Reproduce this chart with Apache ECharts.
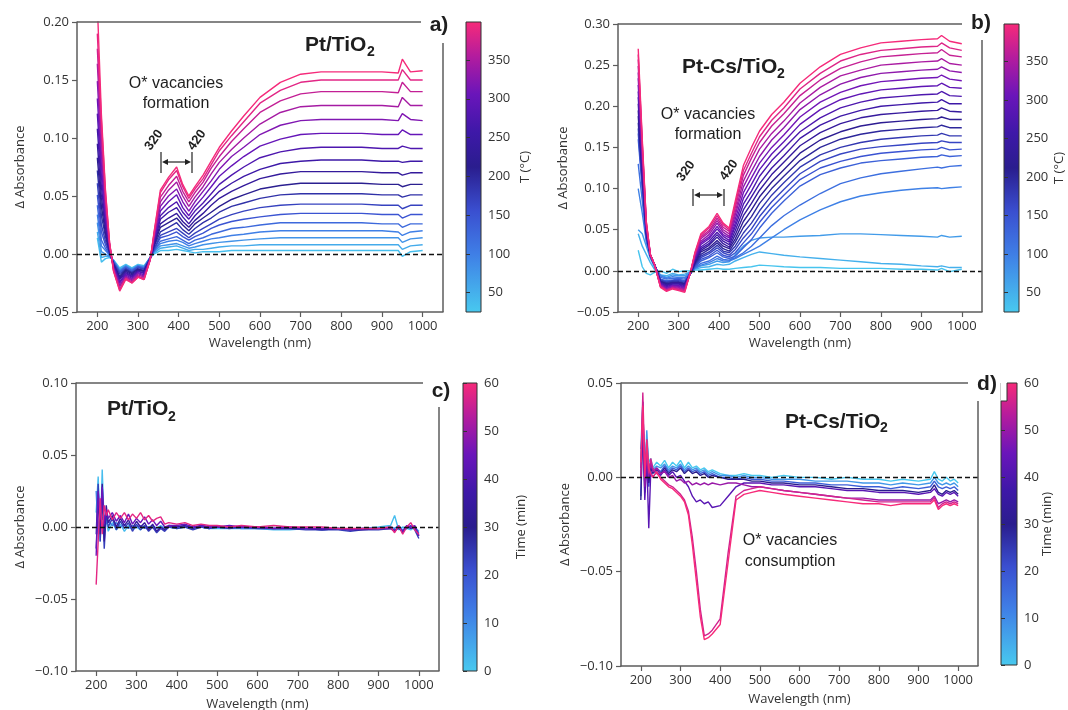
<!DOCTYPE html>
<html>
<head>
<meta charset="utf-8">
<title>Delta absorbance spectra</title>
<script src="https://cdn.jsdelivr.net/npm/echarts@6/dist/echarts.min.js"></script>
<style>
html, body { margin: 0; padding: 0; background: #fff; }
#main { width: 1068px; height: 710px; }
</style>
</head>
<body>
<div id="main"></div>
<script>
// ---- data (delta absorbance in units of 1e-3) ----
var WL_AB = [200, 210, 220, 230, 240, 255, 270, 285, 300, 315, 330, 340, 355, 375, 395, 410, 425, 440, 460, 480, 500, 530, 560, 600, 650, 700, 750, 800, 850, 900, 940, 950, 970, 1000];
var WL_CD = [200, 205, 210, 215, 220, 225, 230, 240, 250, 260, 270, 280, 290, 300, 310, 320, 330, 340, 350, 360, 370, 380, 400, 420, 440, 460, 480, 500, 530, 560, 600, 640, 680, 720, 760, 800, 830, 860, 900, 930, 940, 950, 960, 970, 980, 990, 1000];
var WL_TICKS = [200, 300, 400, 500, 600, 700, 800, 900, 1000];
var TEMP_TICKS = [50, 100, 150, 200, 250, 300, 350];
var TIME_TICKS = [0, 10, 20, 30, 40, 50, 60];

// a) Pt/TiO2, temperature ramp (°C)
var TEMP_A = [35, 55, 80, 100, 125, 150, 170, 190, 210, 235, 255, 275, 300, 320, 345, 365, 385, 398];
var DABS_A = [
  [14,-7,-4,-3,-5,-12,-9,-12,-9,-10,-3,0,3,3,4,3,2,1,2,2,2,3,3,3,3,3,3,3,3,3,3,-2,2,3],
  [19,-3,-2,-2,-6,-13,-10,-13,-10,-11,-3,1,5,6,7,5,3,4,4,5,6,7,7,8,8,8,8,8,8,8,8,4,7,8],
  [27,2,0,-2,-6,-14,-10,-13,-10,-11,-3,2,7,8,9,7,5,6,8,9,10,11,12,13,14,14,14,14,14,14,14,10,13,14],
  [34,7,3,-1,-6,-15,-11,-14,-10,-12,-3,3,9,11,12,10,7,9,11,13,14,16,17,19,20,20,20,20,20,20,19,16,19,20],
  [42,12,5,-1,-7,-15,-11,-14,-11,-12,-3,3,11,13,15,12,9,12,14,17,19,22,23,25,27,27,27,27,27,26,26,23,26,26],
  [51,19,8,0,-7,-16,-12,-15,-11,-13,-3,4,14,16,19,15,12,15,18,22,25,28,30,32,34,35,35,35,35,34,34,31,34,34],
  [61,25,11,1,-8,-17,-13,-16,-12,-13,-4,5,16,19,22,18,14,18,22,26,30,34,37,40,42,43,43,43,43,42,42,39,42,42],
  [72,33,15,1,-8,-19,-13,-16,-13,-14,-4,7,19,23,27,21,17,22,27,31,36,41,44,48,51,52,52,52,52,51,51,49,51,51],
  [83,41,18,2,-9,-20,-14,-17,-13,-15,-4,8,23,27,31,25,20,26,31,36,41,47,51,56,59,61,61,61,61,60,60,58,60,60],
  [95,49,22,3,-10,-21,-15,-18,-14,-15,-4,9,26,31,35,28,23,29,35,42,48,54,59,65,69,71,71,71,71,70,70,68,70,70],
  [108,58,26,4,-10,-22,-16,-19,-15,-16,-4,10,30,36,40,32,26,33,40,47,54,61,67,73,78,80,81,81,81,80,80,79,80,80],
  [121,67,30,5,-11,-24,-17,-20,-15,-17,-4,12,33,40,45,36,30,37,44,52,60,68,75,83,88,91,92,92,92,91,91,93,91,91],
  [134,76,35,6,-12,-25,-18,-21,-16,-18,-4,13,37,45,51,40,33,41,49,58,67,76,84,93,99,103,104,104,104,103,103,107,103,103],
  [149,86,39,7,-12,-27,-19,-22,-17,-19,-4,15,41,50,56,45,37,45,54,63,73,84,92,103,111,115,116,116,116,116,115,121,116,115],
  [164,97,44,8,-13,-28,-20,-23,-18,-20,-5,16,45,55,62,50,41,49,58,69,79,90,100,112,122,127,128,128,128,128,127,135,128,128],
  [177,106,48,9,-14,-30,-21,-24,-19,-21,-5,18,49,59,67,54,45,53,62,74,84,97,108,122,132,138,140,140,140,140,139,148,140,140],
  [190,115,53,10,-15,-31,-21,-25,-20,-22,-5,19,53,64,72,58,48,56,65,77,89,102,114,130,141,148,150,150,150,150,150,159,150,150],
  [215,120,55,10,-15,-32,-22,-25,-20,-22,-5,20,55,66,75,60,50,58,68,80,92,106,119,135,148,155,157,157,157,157,156,168,157,158]
];

// b) Pt-Cs/TiO2, temperature ramp (°C)
var TEMP_B = [30, 50, 72, 98, 118, 135, 151, 167, 182, 201, 219, 238, 256, 274, 293, 311, 330, 348, 366, 382, 398];
var DABS_B = [
  [25,5,-3,-5,-2,0,-3,2,-1,0,0,1,1,2,3,2,2,3,4,5,7,6,5,4,4,3,3,3,2,2,1,3,-1,2],
  [45,30,20,10,2,-5,-6,-3,-5,-4,-1,2,4,5,8,7,8,12,16,20,23,21,19,17,15,13,11,9,8,6,5,6,4,4],
  [50,45,30,15,5,-5,-8,-5,-6,-6,-1,3,6,8,12,10,11,20,30,37,40,41,41,42,43,45,45,44,43,42,41,43,41,42],
  [100,70,35,17,6,-6,-9,-7,-8,-8,-2,3,7,10,15,12,12,15,20,25,30,40,50,62,74,84,91,95,98,100,101,100,101,102],
  [130,85,38,17,7,-8,-10,-9,-9,-10,-2,4,9,12,18,14,13,16,22,30,40,55,67,80,94,106,113,118,121,124,126,125,127,128],
  [160,100,40,18,8,-10,-12,-11,-10,-12,-3,5,12,16,22,17,15,18,28,38,52,70,85,103,117,125,131,134,136,138,139,141,139,140],
  [167,104,41,18,8,-11,-13,-12,-11,-13,-3,6,14,18,25,19,17,22,34,45,59,77,92,111,125,133,139,143,145,147,148,150,147,148],
  [173,107,42,18,8,-11,-14,-12,-12,-14,-3,7,16,21,28,22,19,26,40,51,66,84,99,118,133,142,148,151,153,155,156,158,156,156],
  [180,111,44,18,8,-12,-14,-13,-13,-15,-2,8,18,23,31,24,22,30,46,58,73,92,107,126,141,150,156,160,162,164,165,167,164,164],
  [188,115,45,19,8,-13,-15,-14,-14,-16,-2,9,20,26,34,27,24,35,53,66,82,100,115,134,150,160,166,170,172,174,175,177,174,174],
  [195,119,46,19,8,-13,-16,-15,-14,-16,-2,10,23,28,37,30,27,39,60,74,90,108,123,143,159,169,176,180,182,184,185,187,184,184],
  [203,123,48,19,8,-14,-17,-15,-15,-17,-2,12,25,31,41,33,29,44,67,82,98,117,132,152,168,179,186,190,192,194,195,198,194,193],
  [211,128,49,19,8,-15,-18,-16,-16,-18,-2,13,27,33,44,36,32,49,74,90,106,125,140,161,177,188,195,200,202,204,205,208,203,203],
  [218,132,51,19,8,-15,-19,-17,-17,-19,-1,14,29,36,47,39,35,54,81,97,115,134,149,169,186,198,205,210,212,214,215,218,213,212],
  [226,136,52,19,8,-16,-20,-18,-18,-20,-1,15,32,39,51,42,37,58,88,105,123,142,157,178,196,208,215,220,222,224,225,228,223,222],
  [234,140,53,19,8,-17,-21,-18,-19,-21,-1,16,34,41,54,44,40,63,95,113,131,150,165,187,205,217,225,230,232,234,235,238,233,231],
  [241,144,55,19,8,-17,-22,-19,-20,-22,-1,18,36,44,58,47,42,68,102,121,139,159,174,196,214,227,235,240,242,244,245,248,243,241],
  [249,149,56,20,8,-18,-23,-20,-21,-23,0,19,39,47,61,50,45,72,109,129,148,167,182,204,223,237,244,250,252,254,255,258,252,250],
  [257,153,58,20,8,-19,-23,-21,-22,-24,0,20,41,49,64,53,48,77,116,137,156,176,191,213,232,246,254,260,262,264,265,269,262,260],
  [263,156,59,20,8,-19,-24,-21,-23,-25,0,21,43,52,67,56,50,81,122,143,163,183,198,221,240,255,263,268,270,272,273,277,271,268],
  [270,160,60,20,8,-20,-25,-22,-24,-26,0,22,45,54,70,58,52,85,128,150,170,190,205,228,248,263,271,277,279,281,282,286,279,276]
];

// c) Pt/TiO2, time (min)
var TIME_C = [2, 12, 24, 34, 45, 58];
var DABS_C = [
  [10,35,-10,40,0,5,-3, 3,-2,2,-3,1,-2,0,-2,1,-1,0,-1,1,-1,0, -1,0,-1,0,-1,-1, -1,-1, -1,-2,-2,-1,-2,-1, -2,-1,0,1, 8,-2,0,-1,-2,0,-3],
  [25,-5,15,5,8,2,4, 1,3,0,2,-1,1,0,1,-1,0,1,-1,0,-1,0, 0,1,0,0,-1,0, 0,-1, -1,-1,-1,-1,-2,-1, -2,-1,-1,0, -1,1,-2,0,-1,0,-4],
  [-5,30,-10,22,-15,10,0, 6,-2,4,-1,3,-3,2,-2,1,-3,0,-4,-1,-3,0, -1,0,-2,0,-1,0, -1,0, -1,-1,-1,-2,-2,-2, -3,-2,-2,-1, -2,-1,-3,-1,1,-2,-8],
  [-15,20,-5,30,-10,15,3, 8,0,6,1,5,-1,4,0,3,-2,2,-3,0,-2,1, 0,1,-1,1,0,0, 0,0, 0,-1,-1,-1,-2,-1, -2,-2,-1,-1, -3,0,-4,1,-1,0,-6],
  [-20,25,5,28,2,12,6, 10,4,8,3,9,2,6,3,7,2,5,1,4,0,1, 1,2,0,1,0,0, 1,0, 0,-1,0,-1,-1,-1, -2,-1,-1,-1, -3,0,-3,1,0,1,-6],
  [-40,-10,20,-5,15,8,12, 5,10,6,10,5,9,6,10,5,8,4,6,7,2,3, 2,3,1,2,1,1, 0,1, 0,1,0,0,0,-1, -1,-1,-1,0, -4,1,-5,0,3,-2,-5]
];

// d) Pt-Cs/TiO2, time (min)
var TIME_D = [0, 8, 18, 30, 42, 50, 56, 60];
var DABS_D = [
  [10,30,5,20,8,10,5, 8,6,9,5,8,6,9,5,8,5,6,4,5,3,4, 2,1,1,2,1,1, 0,1, 0,0,-1,0,-1,-1, -2,-1,-2,-1, 3,-1,-2,0,-2,-1,-3],
  [15,40,-5,25,5,8,4, 6,5,7,4,6,5,7,4,6,4,5,3,4,2,3, 1,1,0,1,0,0, -1,-1, -1,-2,-2,-2,-3,-3, -4,-3,-4,-3, 0,-3,-4,-3,-4,-3,-5],
  [-10,35,0,20,-5,6,3, 5,3,6,3,5,4,6,3,5,3,4,2,3,1,2, 0,0,-1,0,-1,-1, -2,-2, -3,-3,-4,-4,-5,-5, -6,-5,-6,-5, -2,-5,-6,-5,-6,-5,-7],
  [-12,30,-8,15,-3,5,2, 4,2,5,2,4,3,5,2,4,2,3,1,2,0,1, 0,-1,-1,-1,-2,-2, -3,-3, -4,-4,-5,-6,-6,-7, -7,-7,-8,-7, -4,-8,-9,-7,-8,-7,-9],
  [0,25,-12,10,-27,3,0, 3,1,4,1,3,0,1,-2,-5,-10,-13,-12,-14,-13,-16, -15,-10,-5,-3,-3,-3, -4,-4, -5,-5,-6,-7,-7,-8, -8,-8,-9,-8, -6,-9,-10,-8,-9,-8,-10],
  [5,40,-5,12,0,8,3, 5,2,3,0,1,-2,-1,-3,-2,-4,-3,-4,-3,-4,-3, -4,-3,-3,-4,-5,-5, -6,-7, -8,-9,-10,-11,-11,-12, -12,-12,-12,-12, -10,-14,-13,-12,-13,-12,-13],
  [0,45,5,15,2,10,5, 2,0,-2,-4,-5,-7,-9,-12,-18,-32,-50,-70,-84,-83,-81, -75,-40,-10,-7,-6,-5, -6,-7, -8,-9,-10,-11,-12,-13, -13,-13,-13,-13, -11,-16,-14,-13,-14,-13,-14],
  [8,38,0,20,5,2,0, 3,-1,-3,-5,-6,-8,-10,-13,-20,-36,-55,-74,-86,-85,-83, -78,-45,-12,-9,-8,-7, -8,-9, -10,-11,-12,-13,-14,-14, -15,-14,-14,-14, -12,-17,-15,-14,-15,-14,-15]
];

// ---- colour map (cyan -> blue -> indigo -> purple -> pink) ----
var CMAP_STOPS = [[0, '#48c9ef'], [0.2, '#3f7fe6'], [0.35, '#3a4fd0'], [0.5, '#2a1d8e'], [0.62, '#3e18a8'], [0.75, '#6a15ba'], [0.88, '#b31c9e'], [1, '#f72a79']];

function hexRgb(h) {
  return [parseInt(h.substr(1, 2), 16), parseInt(h.substr(3, 2), 16), parseInt(h.substr(5, 2), 16)];
}
function cmap(t) {
  t = Math.max(0, Math.min(1, t));
  for (var i = 1; i < CMAP_STOPS.length; i++) {
    if (t <= CMAP_STOPS[i][0]) {
      var a = CMAP_STOPS[i - 1], b = CMAP_STOPS[i];
      var f = (t - a[0]) / (b[0] - a[0]);
      var ca = hexRgb(a[1]), cb = hexRgb(b[1]);
      return 'rgb(' + ca.map(function(v, k) { return Math.round(v + (cb[k] - v) * f); }).join(',') + ')';
    }
  }
  return CMAP_STOPS[CMAP_STOPS.length - 1][1];
}

var AX = '#5c5c5c';
var TXT = '#333';
var TICK_FONT = 'Open Sans';
var ANNO_FONT = '"Liberation Sans", Arial, sans-serif';

/* layout of the four panels */
var PANELS = [
  { tag: 'a)', grid: { left: 77, top: 22, width: 366, height: 290 }, yMin: -0.05, yMax: 0.20,
    wl: WL_AB, z: TEMP_A, rows: DABS_A, zMin: 25, zMax: 399, zTicks: TEMP_TICKS, zName: 'T (°C)',
    cb: { left: 466, top: 22, width: 15, height: 290 }, cbGap: 38, xGap: 25, yGap: 50,
    topEnd: 421, rightStart: 43, tagPos: [439, 25] },
  { tag: 'b)', grid: { left: 618, top: 24, width: 364, height: 288 }, yMin: -0.05, yMax: 0.30,
    wl: WL_AB, z: TEMP_B, rows: DABS_B, zMin: 25, zMax: 399, zTicks: TEMP_TICKS, zName: 'T (°C)',
    cb: { left: 1004, top: 24, width: 15, height: 288 }, cbGap: 34, xGap: 25, yGap: 48,
    topEnd: 962, rightStart: 40, tagPos: [981, 23] },
  { tag: 'c)', grid: { left: 76, top: 383, width: 363, height: 288 }, yMin: -0.10, yMax: 0.10,
    wl: WL_CD, z: TIME_C, rows: DABS_C, zMin: 0, zMax: 60, zTicks: TIME_TICKS, zName: 'Time (min)',
    cb: { left: 463, top: 383, width: 14, height: 288 }, cbGap: 38, xGap: 27, yGap: 49,
    topEnd: 423, rightStart: 407, tagPos: [441, 391] },
  { tag: 'd)', grid: { left: 621, top: 383, width: 357, height: 283 }, yMin: -0.10, yMax: 0.05,
    wl: WL_CD, z: TIME_D, rows: DABS_D, zMin: 0, zMax: 60, zTicks: TIME_TICKS, zName: 'Time (min)',
    cb: { left: 1001, top: 383, width: 16, height: 282 }, cbGap: 24, xGap: 27, yGap: 49,
    topEnd: 968, rightStart: 401, tagPos: [987, 384] }
];

function fmtAbs(v) {
  if (Math.abs(v) < 1e-9) v = 0;
  return (v < 0 ? '\u2212' : '') + Math.abs(v).toFixed(2);
}
function fmtPlain(v) {
  return String(Math.round(v));
}

function gline(x1, y1, x2, y2, color, width) {
  return { type: 'line', silent: true, z: 10,
    shape: { x1: x1, y1: y1, x2: x2, y2: y2 },
    style: { stroke: color || AX, lineWidth: width || 1.5 } };
}
function gtext(x, y, str, font, align, rot) {
  return { type: 'text', silent: true, z: 10, x: x, y: y, rotation: rot || 0,
    style: { text: str, font: font, fill: '#1e1e1e',
      align: align || 'center', verticalAlign: 'middle',
      textAlign: align || 'center', textVerticalAlign: 'middle' } };
}
function bracket(xl, xr, y0, y1, ya) {
  return [
    gline(xl, y0, xl, y1, '#222', 1.2),
    gline(xr, y0, xr, y1, '#222', 1.2),
    gline(xl + 4, ya, xr - 4, ya, '#222', 1.2),
    { type: 'polygon', silent: true, z: 10, shape: { points: [[xl + 1, ya], [xl + 7, ya - 3], [xl + 7, ya + 3]] }, style: { fill: '#222' } },
    { type: 'polygon', silent: true, z: 10, shape: { points: [[xr - 1, ya], [xr - 7, ya - 3], [xr - 7, ya + 3]] }, style: { fill: '#222' } }
  ];
}

var cbFill = new echarts.graphic.LinearGradient(0, 1, 0, 0,
  CMAP_STOPS.map(function(s) { return { offset: s[0], color: s[1] }; }));

var grids = [], xAxes = [], yAxes = [], series = [], elements = [];

PANELS.forEach(function(p, i) {
  var g = 2 * i, c = 2 * i + 1;
  grids.push(Object.assign({ outerBoundsMode: 'none', containLabel: false }, p.grid));
  grids.push(Object.assign({ show: true, outerBoundsMode: 'none', containLabel: false,
    backgroundColor: cbFill, borderColor: '#333', borderWidth: 1 }, p.cb));

  xAxes.push({
    gridIndex: g, type: 'value', min: 150, max: 1050,
    axisLine: { show: true, onZero: false, lineStyle: { color: AX, width: 1.5 } },
    axisTick: { show: true, customValues: WL_TICKS, length: 5, lineStyle: { color: AX, width: 1.2 } },
    axisLabel: { customValues: WL_TICKS, formatter: fmtPlain, margin: 8, color: TXT, fontFamily: TICK_FONT, fontSize: 13 },
    splitLine: { show: false },
    name: 'Wavelength (nm)', nameLocation: 'middle', nameGap: p.xGap, nameMoveOverlap: false,
    nameTextStyle: { color: TXT, fontFamily: TICK_FONT, fontSize: 13 }
  });
  xAxes.push({ gridIndex: c, type: 'value', min: 0, max: 1, show: false });

  yAxes.push({
    gridIndex: g, type: 'value', min: p.yMin, max: p.yMax, interval: 0.05,
    axisLine: { show: true, onZero: false, lineStyle: { color: AX, width: 1.5 } },
    axisTick: { show: true, length: 5, lineStyle: { color: AX, width: 1.2 } },
    axisLabel: { formatter: fmtAbs, margin: 8, color: TXT, fontFamily: TICK_FONT, fontSize: 13 },
    splitLine: { show: false },
    name: '\u0394 Absorbance', nameLocation: 'middle', nameRotate: 90, nameGap: p.yGap, nameMoveOverlap: false,
    nameTextStyle: { color: TXT, fontFamily: TICK_FONT, fontSize: 13 }
  });
  yAxes.push({
    gridIndex: c, type: 'value', position: 'right', min: p.zMin, max: p.zMax,
    axisLine: { show: false },
    axisTick: { show: true, customValues: p.zTicks, length: 4, lineStyle: { color: '#333', width: 1 } },
    axisLabel: { customValues: p.zTicks, formatter: fmtPlain, margin: 7, color: TXT, fontFamily: TICK_FONT, fontSize: 13 },
    splitLine: { show: false },
    name: p.zName, nameLocation: 'middle', nameRotate: 90, nameGap: p.cbGap, nameMoveOverlap: false,
    nameTextStyle: { color: TXT, fontFamily: TICK_FONT, fontSize: 13 }
  });

  p.rows.forEach(function(row, k) {
    var col = cmap((p.z[k] - p.zMin) / (p.zMax - p.zMin));
    var s = {
      type: 'line', xAxisIndex: g, yAxisIndex: g, silent: true, clip: true,
      symbol: 'none', showSymbol: false, animation: false,
      lineStyle: { color: col, width: 1.4 }, itemStyle: { color: col },
      emphasis: { disabled: true },
      data: p.wl.map(function(w, j) { return [w, row[j] / 1000]; })
    };
    if (k === p.rows.length - 1) {
      s.markLine = {
        silent: true, symbol: ['none', 'none'], animation: false,
        label: { show: false },
        lineStyle: { color: '#111', type: [5, 3], width: 1.3 },
        data: [{ yAxis: 0 }]
      };
    }
    series.push(s);
  });

  // open frame: top line stops before the panel tag, right line starts below it
  var r = p.grid.left + p.grid.width, b = p.grid.top + p.grid.height;
  elements.push(gline(p.grid.left, p.grid.top, p.topEnd, p.grid.top));
  elements.push(gline(r, p.rightStart, r, b));
  elements.push(gtext(p.tagPos[0], p.tagPos[1], p.tag, 'bold 21px ' + ANNO_FONT));
});

// sample names with subscript
var TITLE_FONT = 'bold 21px ' + ANNO_FONT, SUB_FONT = 'bold 14px ' + ANNO_FONT;
elements.push(gtext(305, 45, 'Pt/TiO', TITLE_FONT, 'left'), gtext(367, 52, '2', SUB_FONT, 'left'));
elements.push(gtext(682, 67, 'Pt-Cs/TiO', TITLE_FONT, 'left'), gtext(777, 74, '2', SUB_FONT, 'left'));
elements.push(gtext(107, 409, 'Pt/TiO', TITLE_FONT, 'left'), gtext(168, 417, '2', SUB_FONT, 'left'));
elements.push(gtext(785, 422, 'Pt-Cs/TiO', TITLE_FONT, 'left'), gtext(880, 428, '2', SUB_FONT, 'left'));

// annotations
var NOTE_FONT = '16px ' + ANNO_FONT, NUM_FONT = 'bold 13px ' + ANNO_FONT;
elements.push(gtext(176, 84, 'O* vacancies', NOTE_FONT), gtext(176, 104, 'formation', NOTE_FONT));
elements.push(gtext(708, 115, 'O* vacancies', NOTE_FONT), gtext(708, 135, 'formation', NOTE_FONT));
elements.push(gtext(790, 541, 'O* vacancies', NOTE_FONT), gtext(790, 562, 'consumption', NOTE_FONT));
elements.push(gtext(154, 140, '320', NUM_FONT, 'center', Math.PI * 0.3), gtext(197, 140, '420', NUM_FONT, 'center', Math.PI * 0.3));
elements.push(gtext(686, 171, '320', NUM_FONT, 'center', Math.PI * 0.3), gtext(729, 170, '420', NUM_FONT, 'center', Math.PI * 0.3));
elements = elements.concat(bracket(161, 192, 152, 173, 162), bracket(693, 724, 189, 206, 195));

// small notch at the top of the d) colour bar
elements.push({ type: 'rect', silent: true, z: 10, shape: { x: 1000.5, y: 382, width: 6.5, height: 19 }, style: { fill: '#fff' } });
elements.push(gline(1007, 383, 1007, 401, '#333', 1), gline(1001, 401, 1007, 401, '#333', 1));

var chart = echarts.init(document.getElementById('main'), null, { renderer: 'canvas' });
chart.setOption({
  backgroundColor: '#fff',
  animation: false,
  grid: grids,
  xAxis: xAxes,
  yAxis: yAxes,
  series: series,
  graphic: { elements: elements }
});
window.addEventListener('resize', function() { chart.resize(); });
</script>
</body>
</html>
